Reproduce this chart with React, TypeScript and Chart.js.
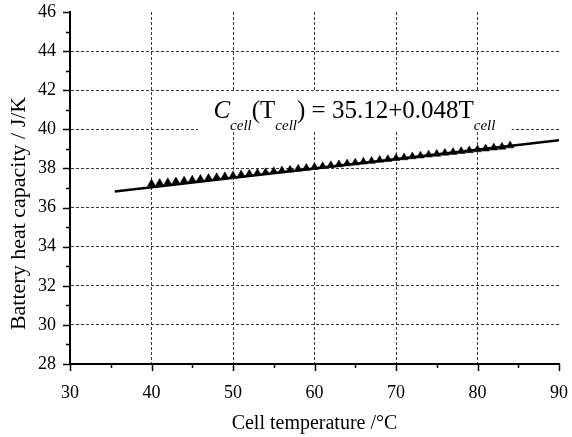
import React, { useEffect, useRef } from "react";
import { Chart, registerables } from "chart.js";

Chart.register(...registerables);

const xTickValues = [30, 35, 40, 45, 50, 55, 60, 65, 70, 75, 80, 85, 90];
const yTickValues = [28, 29, 30, 31, 32, 33, 34, 35, 36, 37, 38, 39, 40, 41, 42, 43, 44, 45, 46];

const cellTemps = [
  40, 41, 42, 43, 44, 45, 46, 47, 48, 49, 50, 51, 52, 53, 54, 55, 56, 57, 58, 59, 60, 61, 62,
  63, 64, 65, 66, 67, 68, 69, 70, 71, 72, 73, 74, 75, 76, 77, 78, 79, 80, 81, 82, 83, 84,
];
const heatCapacity = [
  37.22, 37.25, 37.29, 37.33, 37.37, 37.42, 37.46, 37.5, 37.55, 37.59, 37.63, 37.68, 37.72,
  37.76, 37.8, 37.85, 37.89, 37.93, 37.98, 38.02, 38.07, 38.11, 38.16, 38.2, 38.25, 38.29,
  38.34, 38.38, 38.43, 38.47, 38.52, 38.56, 38.61, 38.65, 38.7, 38.74, 38.79, 38.83, 38.88,
  38.92, 38.97, 39.01, 39.06, 39.1, 39.17,
];
const fitTemps = [35.5, 90];
const fitValues = [36.82, 39.44];

const yTitle = "Battery heat capacity / J/K";
const xTitle = "Cell temperature /°C";

const FONT = "'Liberation Serif', 'Times New Roman', serif";

const eqParts = [
  { text: "C", italic: true, sub: false },
  { text: "cell", italic: true, sub: true },
  { text: "(T", italic: false, sub: false },
  { text: "cell", italic: true, sub: true },
  { text: ") = 35.12+0.048T", italic: false, sub: false },
  { text: "cell", italic: true, sub: true },
];

const tickPlugin = {
  id: "manualTicks",
  afterDraw(chart: any) {
    const { ctx } = chart;
    const xs = chart.scales.x;
    const ys = chart.scales.y;
    const left = ys.right;
    const bottom = xs.top;
    ctx.save();
    ctx.strokeStyle = "#000";
    ctx.lineWidth = 1.5;
    ctx.beginPath();
    xTickValues.forEach((v) => {
      const px = Math.round(xs.getPixelForValue(v)) + 0.5;
      const len = v % 10 === 0 ? 7 : 4;
      ctx.moveTo(px, bottom);
      ctx.lineTo(px, bottom + len);
    });
    yTickValues.forEach((v) => {
      const py = Math.round(ys.getPixelForValue(v)) + 0.5;
      const len = v % 2 === 0 ? 7 : 4;
      ctx.moveTo(left, py);
      ctx.lineTo(left - len, py);
    });
    ctx.stroke();
    // y axis title
    ctx.translate(19, ys.getPixelForValue(35.7));
    ctx.rotate(-Math.PI / 2);
    ctx.fillStyle = "#000";
    ctx.font = `22px ${FONT}`;
    ctx.textAlign = "center";
    ctx.textBaseline = "middle";
    ctx.fillText(yTitle, 0, 0);
    ctx.restore();
  },
};

const equationPlugin = {
  id: "equation",
  beforeDatasetsDraw(chart: any) {
    const { ctx } = chart;
    const xs = chart.scales.x;
    const ys = chart.scales.y;
    const bx0 = xs.getPixelForValue(45.7);
    const bx1 = xs.getPixelForValue(84.2);
    const by0 = ys.getPixelForValue(41.9);
    const by1 = ys.getPixelForValue(39.9);
    ctx.save();
    ctx.fillStyle = "#fff";
    ctx.fillRect(bx0, by0, bx1 - bx0, by1 - by0);
    let x = xs.getPixelForValue(47.6);
    const base = ys.getPixelForValue(40.58);
    ctx.fillStyle = "#000";
    ctx.textBaseline = "alphabetic";
    ctx.textAlign = "left";
    eqParts.forEach((p) => {
      const size = p.sub ? 15 : 25;
      ctx.font = `${p.italic ? "italic " : ""}${size}px ${FONT}`;
      const y = p.sub ? base + 12 : base;
      ctx.fillText(p.text, x, y);
      x += ctx.measureText(p.text).width;
    });
    ctx.restore();
  },
};

export default function App() {
  const ref = useRef<HTMLCanvasElement | null>(null);
  useEffect(() => {
    if (!ref.current) return;
    const chart = new Chart(ref.current, {
      type: "scatter",
      data: {
        datasets: [
          {
            label: "measured",
            data: cellTemps.map((t, i) => ({ x: t, y: heatCapacity[i] })),
            pointStyle: "triangle",
            pointRadius: 4.6,
            pointBackgroundColor: "#000",
            pointBorderColor: "#000",
            pointBorderWidth: 0.5,
            showLine: false,
            order: 1,
          },
          {
            label: "fit",
            data: fitTemps.map((t, i) => ({ x: t, y: fitValues[i] })),
            showLine: true,
            borderColor: "#000",
            borderWidth: 2.5,
            pointRadius: 0,
            order: 2,
          },
        ],
      },
      options: {
        animation: false,
        responsive: false,
        layout: { padding: { top: 12, right: 13, left: 0, bottom: 0 } },
        plugins: { legend: { display: false }, tooltip: { enabled: false } },
        scales: {
          x: {
            type: "linear",
            min: 30,
            max: 90,
            afterFit: (s: any) => {
              s.height = 73;
              s.paddingLeft = 0;
              s.paddingRight = 0;
            },
            ticks: {
              stepSize: 10,
              color: "#000",
              padding: 18,
              font: { family: FONT, size: 18 },
            },
            grid: {
              drawTicks: false,
              lineWidth: 1,
              color: (c: any) =>
                c.tick && (c.tick.value === 30 || c.tick.value === 90) ? "rgba(0,0,0,0)" : "#3a3a3a",
            },
            border: { display: true, color: "#000", width: 2, dash: [3, 2] },
            title: {
              display: true,
              text: xTitle,
              color: "#000",
              font: { family: FONT, size: 20 },
              padding: { top: 0, bottom: 1 },
            },
          },
          y: {
            type: "linear",
            min: 28,
            max: 46,
            afterFit: (s: any) => {
              s.width = 70;
              s.paddingTop = 0;
              s.paddingBottom = 0;
            },
            ticks: {
              stepSize: 2,
              color: "#000",
              padding: 14,
              font: { family: FONT, size: 18 },
            },
            grid: {
              drawTicks: false,
              lineWidth: 1,
              color: (c: any) =>
                c.tick && (c.tick.value === 28 || c.tick.value === 46) ? "rgba(0,0,0,0)" : "#3a3a3a",
            },
            border: { display: true, color: "#000", width: 2, dash: [3, 2] },
            title: { display: false },
          },
        },
      },
      plugins: [equationPlugin, tickPlugin],
    });
    return () => chart.destroy();
  }, []);
  return (
    <div style={{ position: "absolute", left: 0, top: 0, width: 572, height: 437, background: "#fff" }}>
      <canvas ref={ref} width={572} height={437} />
    </div>
  );
}
